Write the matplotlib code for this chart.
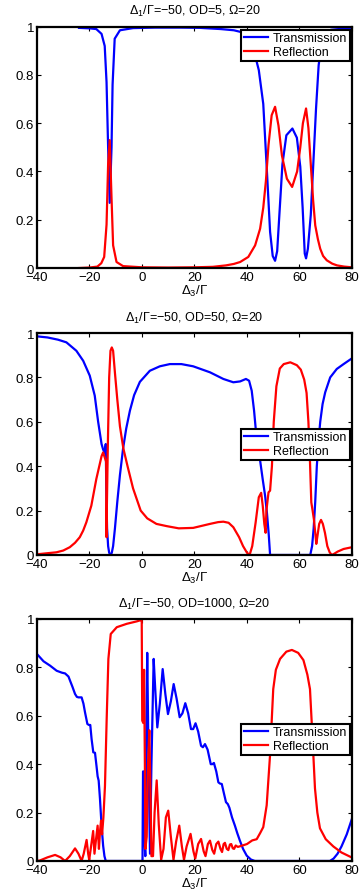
import matplotlib
matplotlib.use("Agg")
import matplotlib.pyplot as plt

plt.rcParams['font.family'] = ['Liberation Sans', 'DejaVu Sans']
plt.rcParams['mathtext.fontset'] = 'custom'
plt.rcParams['mathtext.rm'] = 'Liberation Sans'
plt.rcParams['mathtext.it'] = 'Liberation Sans:italic'
plt.rcParams['mathtext.bf'] = 'Liberation Sans:bold'

# ---------------- data ----------------
titles = ['Δ$_1$/Γ=−50, OD=5, Ω=20',
          'Δ$_1$/Γ=−50, OD=50, Ω=20',
          'Δ$_1$/Γ=−50, OD=1000, Ω=20']
xlabel_text = 'Δ$_3$/Γ'
series_names = ['Transmission', 'Reflection']
x_ticks = [-40, -20, 0, 20, 40, 60, 80]
y_ticks = [0, 0.2, 0.4, 0.6, 0.8, 1]
y_tick_labels = ['0', '0.2', '0.4', '0.6', '0.8', '1']

# Panel 1 (OD=5)
t1_x = [-24, -20, -17.4, -15.4, -14.2, -13.5, -12.9, -12.3, -11.6, -11.2, -10.4, -8.4, -3.4, 5, 15, 22,
        30, 35, 39.9, 42.4, 44.5, 46.2, 47.5, 48.8, 49.8, 50.7, 51.5, 52.5, 53.5, 55, 57.3, 59, 60.3,
        61.2, 62.0, 62.5, 63.2, 64.3, 65.3, 66.3, 67.3, 68.5, 70, 72, 75, 80]
t1_y = [0.995, 0.993, 0.99, 0.97, 0.92, 0.77, 0.5, 0.27, 0.5, 0.76, 0.95, 0.985, 0.994, 0.996, 0.996, 0.995,
        0.99, 0.985, 0.972, 0.91, 0.82, 0.68, 0.42, 0.15, 0.05, 0.03, 0.07, 0.25, 0.43, 0.55, 0.578, 0.54, 0.42,
        0.25, 0.06, 0.04, 0.08, 0.22, 0.44, 0.66, 0.84, 0.94, 0.975, 0.987, 0.99, 0.99]
r1_x = [-24, -20, -17, -15.5, -14.4, -13.5, -12.9, -12.3, -11.6, -11.0, -9.7, -7.2, 0, 10, 20, 27, 32, 35,
        37.4, 40.5, 43.1, 45, 46.2, 47.2, 48.2, 49.4, 50.7, 52, 53.3, 55.2, 57.2, 59.1, 60.3, 61.3, 62.5,
        63.4, 64.3, 65.2, 66.0, 67.0, 67.9, 69, 70.4, 72.5, 74.3, 77, 80]
r1_y = [0, 0.002, 0.006, 0.02, 0.046, 0.18, 0.43, 0.53, 0.29, 0.094, 0.025, 0.008, 0.003, 0.002, 0.003,
        0.005, 0.011, 0.017, 0.025, 0.046, 0.094, 0.163, 0.25, 0.36, 0.51, 0.633, 0.668, 0.59, 0.467, 0.37,
        0.336, 0.40, 0.5, 0.6, 0.661, 0.58, 0.43, 0.28, 0.177, 0.12, 0.08, 0.05, 0.032, 0.018, 0.011, 0.006,
        0.003]

# Panel 2 (OD=50)
t2_x = [-40, -36, -32, -28.8, -25, -22.4, -19.9, -18, -16.7, -15.4, -14.8, -14.2, -13.8, -13.6, -13.3,
        -12.9, -12.5, -12.0, -11.5, -11.0, -10.3, -9.4, -8.4, -7.2, -6.0, -4.6, -3.0, -0.8, 3, 6.8, 10.6,
        15, 19.5, 25.9, 31, 34.8, 37.4, 39.6, 40.8, 41.8, 42.7, 43.7, 44.6, 45.3, 46.0, 46.9, 47.6, 48.3,
        48.8, 50, 60, 64.1, 64.8, 65.4, 66, 66.6, 67.3, 67.9, 68.8, 69.8, 71.7, 74.2, 76.8, 80]
t2_y = [0.985, 0.98, 0.97, 0.958, 0.92, 0.875, 0.808, 0.718, 0.6, 0.5, 0.475, 0.46, 0.5, 0.3, 0.12,
        0.04, 0.01, 0.0, 0.01, 0.04, 0.12, 0.24, 0.36, 0.48, 0.57, 0.65, 0.72, 0.78, 0.83, 0.85, 0.86,
        0.86, 0.85, 0.823, 0.793, 0.778, 0.782, 0.793, 0.785, 0.74, 0.65, 0.52, 0.46, 0.40, 0.34, 0.267,
        0.19, 0.09, 0.0, 0.0, 0.0, 0.0, 0.04, 0.12, 0.24, 0.4, 0.52, 0.6, 0.68, 0.733, 0.8, 0.838, 0.86, 0.886]
r2_x = [-40, -36, -32.6, -30, -27.5, -25.5, -23.7, -22.4, -21.2, -19.3, -17.4, -15.4, -14.8, -14.2,
        -13.65, -13.5, -13.4, -13.0, -12.5, -12.0, -11.5, -11.0, -10.3, -9.4, -8.4, -7.1, -5.5, -3.4,
        -0.5, 2, 5.5, 9.4, 14, 19.5, 25.9, 29, 31, 33, 34.8, 37, 38.5, 40, 41, 42, 43.3, 44.5, 45.4, 46.0,
        46.6, 47.1, 47.4, 48.2, 48.8, 49.5, 50.2, 51.2, 52.5, 54, 56.5, 59, 60.5, 61.8, 62.7, 63.4, 64.0,
        64.5, 65.0, 65.5, 66.0, 66.4, 66.9, 67.5, 68.2, 68.9, 69.7, 70.6, 71.5, 72.3, 73.3, 74.5, 76.8, 80]
r2_y = [0.003, 0.008, 0.012, 0.02, 0.035, 0.055, 0.08, 0.11, 0.147, 0.222, 0.342, 0.445, 0.462, 0.44,
        0.42, 0.08, 0.2, 0.5, 0.8, 0.92, 0.935, 0.92, 0.82, 0.7, 0.58, 0.48, 0.4, 0.3,
        0.2, 0.165, 0.14, 0.13, 0.12, 0.122, 0.14, 0.148, 0.15, 0.145, 0.125, 0.08, 0.04, 0.01, 0.0, 0.04,
        0.147, 0.26, 0.28, 0.222, 0.14, 0.1, 0.2, 0.282, 0.29, 0.4, 0.6, 0.76, 0.84, 0.86, 0.868, 0.855,
        0.835, 0.79, 0.73, 0.6, 0.42, 0.237, 0.2, 0.16, 0.1, 0.05, 0.09, 0.14, 0.158, 0.14, 0.1, 0.04, 0.012,
        0.0, 0.006, 0.015, 0.027, 0.035]

# Panel 3 (OD=1000)
t3_x = [-40, -37.5, -35, -32.5, -30.5, -29.3, -28, -27.4, -26.5, -25.5, -24.8, -24.2, -23.0, -22.3,
        -21.7, -20.8, -20.2, -19.7, -19.2, -18.55, -17.9, -17.3, -16.9, -16.5, -16.0, -15.4, -14.8, -14.3,
        -13.8, -5, 0.2, 0.3, 0.4, 0.65, 0.9, 1.27, 1.6, 2.0, 2.4, 3.05, 3.6, 4.45, 5.0, 5.84, 6.8, 7.88,
        8.9, 9.9, 11.0, 12.07, 13.2, 14.35, 15.4, 16.5, 17.6, 18.67, 19.5, 20.4, 21.4, 22.5, 23.2, 24.0,
        25.0, 26.2, 26.8, 27.4, 28.3, 29.1, 29.7, 30.4, 31.2, 32, 32.7, 33.3, 34.3, 35.4, 36.3, 37.3,
        38.5, 39.9, 41.5, 43, 50, 60, 70, 71.6, 73, 74.5, 76, 78, 80]
t3_y = [0.855, 0.825, 0.807, 0.786, 0.778, 0.775, 0.762, 0.745, 0.72, 0.69, 0.678, 0.676, 0.676, 0.65,
        0.614, 0.566, 0.562, 0.562, 0.504, 0.449, 0.447, 0.39, 0.35, 0.332, 0.256, 0.146, 0.063, 0.02,
        0.0, 0.0, 0.0, 0.2, 0.37, 0.37, 0.1, 0.02, 0.5, 0.86, 0.5, 0.03, 0.4, 0.835, 0.72, 0.552, 0.65, 0.793,
        0.69, 0.607, 0.66, 0.731, 0.67, 0.594, 0.61, 0.652, 0.61, 0.545, 0.545, 0.569, 0.535, 0.476, 0.47,
        0.483, 0.46, 0.40, 0.40, 0.405, 0.37, 0.325, 0.32, 0.318, 0.28, 0.243, 0.235, 0.22, 0.18, 0.146,
        0.115, 0.084, 0.05, 0.022, 0.006, 0.0, 0.0, 0.0, 0.0, 0.0, 0.01, 0.03, 0.06, 0.11, 0.175]
r3_x = [-40, -38.9, -36, -33.1, -31, -29.3, -27.5, -25.5, -24.2, -23.0, -22.2, -21.1, -20.5, -20.1,
        -19.4, -18.6, -18.1, -17.5, -16.9, -16.4, -16.0, -15.6, -15.2, -14.7, -14.1, -13.45, -12.8,
        -11.9, -9.6, -5.8, -2, -0.5, -0.1, 0.1, 0.5, 0.8, 1.1, 1.3, 1.8, 2.3, 2.8, 3.3, 3.6, 4.2, 4.8,
        5.6, 6.4, 7.3, 8.2, 9.1, 10.0, 11.0, 12.0, 13.0, 14.2, 15.2, 16.0, 17.0, 18.5, 19.6, 20.3, 21.4,
        22.5, 23.5, 24.2, 25.1, 25.9, 26.8, 27.5, 28.3, 29.1, 29.9, 30.5, 31.1, 31.6, 32.3, 32.9, 33.5,
        34.0, 34.6, 35.1, 35.7, 36.5, 38, 40, 42, 43.7, 45, 46.2, 47.5, 48.8, 50, 51, 52.6, 55, 57.1,
        59.5, 61.5, 63, 64, 65, 65.9, 66.8, 67.8, 70, 72.9, 76, 80]
r3_y = [0.0, 0.002, 0.015, 0.025, 0.015, 0.0, 0.02, 0.052, 0.03, 0.0, 0.03, 0.087, 0.03, 0.005,
        0.06, 0.124, 0.03, 0.09, 0.146, 0.05, 0.12, 0.167, 0.11, 0.18, 0.31, 0.587, 0.835,
        0.938, 0.966, 0.98, 0.99, 0.995, 0.995, 0.58, 0.57, 0.79, 0.4, 0.05, 0.1, 0.4, 0.54, 0.25, 0.02,
        0.02, 0.2, 0.333, 0.15, 0.005, 0.05, 0.18, 0.208, 0.1, 0.005, 0.08, 0.146, 0.06, 0.005, 0.06,
        0.112, 0.04, 0.01, 0.07, 0.091, 0.04, 0.02, 0.07, 0.084, 0.045, 0.03, 0.07, 0.08, 0.05, 0.037,
        0.07, 0.075, 0.05, 0.045, 0.068, 0.07, 0.052, 0.05, 0.064, 0.058, 0.063, 0.07, 0.085, 0.09, 0.115,
        0.14, 0.23, 0.44, 0.71, 0.79, 0.835, 0.865, 0.872, 0.86, 0.83, 0.77, 0.71, 0.5, 0.3, 0.2, 0.135,
        0.09, 0.06, 0.035, 0.014]

panels = [(t1_x, t1_y, r1_x, r1_y), (t2_x, t2_y, r2_x, r2_y), (t3_x, t3_y, r3_x, r3_y)]

# ---------------- layout ----------------
fig = plt.figure(figsize=(3.64, 8.95), dpi=100)
ax_rects = [[0.1016, 0.6994, 0.8654, 0.2697],
            [0.1016, 0.3788, 0.8654, 0.2480],
            [0.1016, 0.0369, 0.8654, 0.2704]]
legend_anchor = [(0.9937, 0.987), (0.9937, 0.5676), (0.9937, 0.566)]

for i, (tx, ty, rx, ry) in enumerate(panels):
    ax = fig.add_axes(ax_rects[i])
    ax.plot(tx, ty, color=(0, 0, 1), lw=1.6, label=series_names[0])
    ax.plot(rx, ry, color=(1, 0, 0), lw=1.6, label=series_names[1])
    ax.set_xlim(-40, 80)
    ax.set_ylim(0, 1)
    ax.set_xticks(x_ticks)
    ax.set_xticklabels([str(v).replace('-', '−') for v in x_ticks])
    ax.set_yticks(y_ticks)
    ax.set_yticklabels(y_tick_labels)
    ax.tick_params(direction='in', length=3, width=0.8, top=True, right=True,
                   labelsize=9.5, pad=2)
    for s in ax.spines.values():
        s.set_linewidth(1.6)
    ax.set_title(titles[i], fontsize=9, pad=9)
    ax.set_xlabel(xlabel_text, fontsize=9.5, labelpad=0)
    leg = ax.legend(loc='upper right', bbox_to_anchor=legend_anchor[i], fontsize=9,
                    frameon=True, fancybox=False, framealpha=1, edgecolor='black',
                    borderaxespad=0, handlelength=1.9, handletextpad=0.45,
                    borderpad=0.2, labelspacing=0.15)
    leg.get_frame().set_linewidth(1.5)

fig.savefig('out.png', dpi=100)
